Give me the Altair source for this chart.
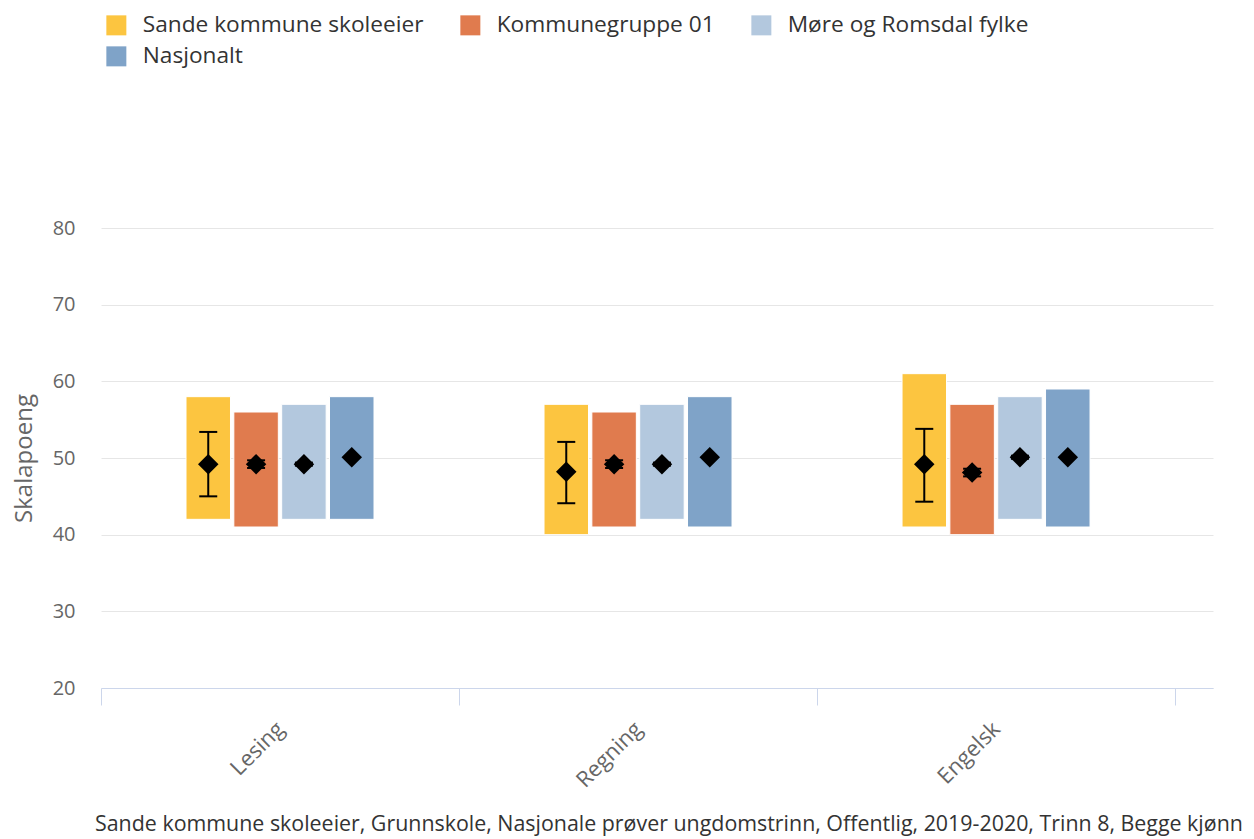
import altair as alt
import pandas as pd

subjects = ["Lesing", "Regning", "Engelsk"]
series = ["Sande kommune skoleeier", "Kommunegruppe 01", "Møre og Romsdal fylke", "Nasjonalt"]
colors = ["#FCC540", "#E07B4E", "#B3C8DE", "#7FA3C8"]

sande_low = [42, 40, 41]
sande_high = [58, 57, 61]
sande_mean = [49.2, 48.2, 49.2]
sande_err_low = [45.0, 44.1, 44.3]
sande_err_high = [53.4, 52.1, 53.8]

komm_low = [41, 41, 40]
komm_high = [56, 56, 57]
komm_mean = [49.2, 49.2, 48.1]
komm_err_low = [48.7, 48.7, 47.6]
komm_err_high = [49.7, 49.7, 48.6]

more_low = [42, 42, 42]
more_high = [57, 57, 58]
more_mean = [49.2, 49.2, 50.1]
more_err_low = [49.0, 49.0, 49.9]
more_err_high = [49.4, 49.4, 50.3]

nasj_low = [42, 41, 41]
nasj_high = [58, 58, 59]
nasj_mean = [50.1, 50.1, 50.1]

footnote = "Sande kommune skoleeier, Grunnskole, Nasjonale prøver ungdomstrinn, Offentlig, 2019-2020, Trinn 8, Begge kjønn"

rows = []
tables = [
    (series[0], sande_low, sande_high, sande_mean, sande_err_low, sande_err_high),
    (series[1], komm_low, komm_high, komm_mean, komm_err_low, komm_err_high),
    (series[2], more_low, more_high, more_mean, more_err_low, more_err_high),
    (series[3], nasj_low, nasj_high, nasj_mean, nasj_mean, nasj_mean),
]
for name, lo, hi, mn, el, eh in tables:
    for i, s in enumerate(subjects):
        rows.append({"subject": s, "series": name, "low": lo[i], "high": hi[i],
                     "mean": mn[i], "err_low": el[i], "err_high": eh[i]})
df = pd.DataFrame(rows)

FONT = "Open Sans"

x_enc = alt.X(
    "subject:N", sort=subjects,
    scale=alt.Scale(domain=subjects, paddingInner=0, paddingOuter=0.053, align=0),
    axis=alt.Axis(title=None, labelAngle=-45, labelAlign="right", labelBaseline="middle",
                  labelFontSize=22, labelColor="#666666", labelPadding=20,
                  domainColor="#ccd6eb", tickColor="#ccd6eb", tickSize=17,
                  tickBand="extent", grid=False, labelFont=FONT),
)
xo_enc = alt.XOffset(
    "series:N", sort=series,
    scale=alt.Scale(domain=series, paddingInner=0.07, paddingOuter=0, range=[85, 273]),
)
y_scale = alt.Scale(domain=[20, 80], zero=False, nice=False)

base = alt.Chart(df).encode(x=x_enc, xOffset=xo_enc)

bars = base.mark_bar(stroke="white", strokeWidth=1).encode(
    y=alt.Y("low:Q", scale=y_scale,
            axis=alt.Axis(values=[20, 30, 40, 50, 60, 70, 80], title="Skalapoeng",
                          titleColor="#666666", titleFontSize=24, titleFontWeight="normal",
                          titleFont=FONT, titlePadding=16,
                          labelColor="#666666", labelFontSize=20, labelPadding=26,
                          labelFont=FONT, ticks=False, domain=False,
                          gridColor="#e6e6e6", gridWidth=1)),
    y2="high:Q",
    color=alt.Color("series:N", sort=series,
                    scale=alt.Scale(domain=series, range=colors),
                    legend=alt.Legend(title=None, orient="none", legendX=4, legendY=-214,
                                      direction="horizontal", columns=3, gridAlign="none",
                                      symbolType="square", symbolSize=400, symbolStrokeWidth=0,
                                      symbolOpacity=1, labelLimit=500,
                                      labelFontSize=22.7, labelColor="#333333", labelFont=FONT,
                                      labelOffset=15, columnPadding=35, rowPadding=7,
                                      padding=0)),
)

err = base.transform_filter(alt.datum.series != "Nasjonalt")
rules = err.mark_rule(color="black", strokeWidth=2).encode(
    y=alt.Y("err_low:Q", scale=y_scale), y2="err_high:Q")
cap_lo = err.mark_tick(color="black", thickness=2, size=18, opacity=1).encode(
    y=alt.Y("err_low:Q", scale=y_scale))
cap_hi = err.mark_tick(color="black", thickness=2, size=18, opacity=1).encode(
    y=alt.Y("err_high:Q", scale=y_scale))
points = base.mark_point(shape="diamond", filled=True, color="black", size=420, opacity=1).encode(
    y=alt.Y("mean:Q", scale=y_scale))

chart = alt.layer(bars, rules, cap_lo, cap_hi, points).properties(
    width=1112, height=460,
    autosize=alt.AutoSizeParams(type="none"),
    padding={"left": 93, "top": 220, "right": 30, "bottom": 150},
    title=alt.TitleParams(footnote, orient="bottom", anchor="start", frame="group",
                          dx=-6, offset=23, limit=1200,
                          fontSize=21.4, fontWeight="normal", color="#333333", font=FONT),
).configure(font=FONT, view=alt.ViewConfig(stroke=None))

chart.save("out.html", embed_options={"renderer": "svg", "actions": False})
